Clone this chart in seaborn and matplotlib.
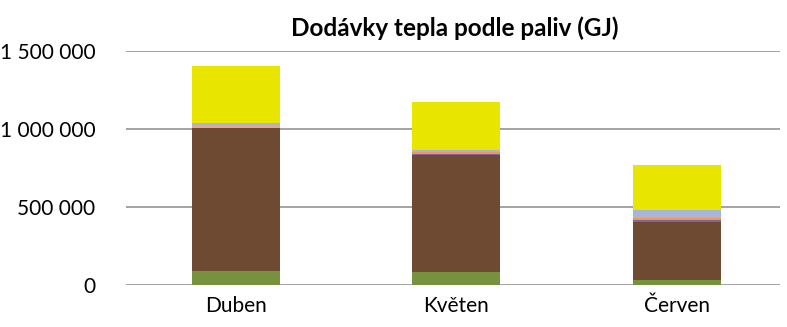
import matplotlib
matplotlib.use("Agg")
import matplotlib.pyplot as plt
import matplotlib.ticker as mticker
import numpy as np
import pandas as pd
import seaborn as sns

# Months shown on the x axis
months = ["Duben", "Květen", "Červen"]

# Heat supplied by fuel (GJ), listed from the bottom of the stack upward
biomasa = [91500, 83000, 34000]
hnede_uhli = [915000, 751000, 373000]
ostatni_paliva = [2000, 11000, 13000]
topne_oleje = [3000, 7000, 10000]
cerne_uhli = [12000, 3000, 0]
ostatni_plyny = [17000, 15500, 56000]
zemni_plyn = [367000, 305000, 284000]

layers = [
    ("Biomasa", biomasa, "#76923C"),
    ("Hnědé uhlí", hnede_uhli, "#6F4A32"),
    ("Ostatní paliva", ostatni_paliva, "#8064A2"),
    ("Topné oleje", topne_oleje, "#F79646"),
    ("Černé uhlí", cerne_uhli, "#E6A88A"),
    ("Ostatní plyny", ostatni_plyny, "#A6B5D8"),
    ("Zemní plyn", zemni_plyn, "#E8E500"),
]

yticks = [0, 500000, 1000000, 1500000]

sns.set_theme(style="white")
plt.rcParams["font.family"] = ["Lato", "DejaVu Sans"]

df = pd.DataFrame({name: vals for name, vals, _ in layers}, index=months)
cum = df.cumsum(axis=1)

fig = plt.figure(figsize=(7.87, 3.27), dpi=100)
ax = fig.add_axes([0.160, 0.1275, 0.831, 0.7155])
ax.set_axisbelow(True)

# Stacked bars: draw cumulative totals from the top layer down so each
# lower layer covers the one above it
for name, _, color in reversed(layers):
    sns.barplot(x=months, y=cum[name].values, order=months, color=color,
                width=0.4, saturation=1, ax=ax, linewidth=0)

for p in ax.patches:
    p.set_zorder(3)

ax.set_ylim(0, 1500000)
ax.set_xlim(-0.5, 2.469)
ax.set_yticks(yticks)
ax.yaxis.set_major_formatter(
    mticker.FuncFormatter(lambda v, p: f"{int(v):,}".replace(",", " ")))
ax.grid(axis="y", color="#8A8A8A", linewidth=1.1, zorder=0)
ax.grid(axis="x", visible=False)
for s in ax.spines.values():
    s.set_visible(False)
ax.tick_params(axis="both", length=0, labelsize=15, colors="black")
ax.tick_params(axis="y", pad=22)
ax.tick_params(axis="x", pad=8)
ax.set_xlabel("")
ax.set_ylabel("")

fig.text(0.5775, 0.915, "Dodávky tepla podle paliv (GJ)", ha="center",
         va="center", fontsize=17.5, fontweight="bold", color="black")

fig.savefig("out.png", dpi=100)
